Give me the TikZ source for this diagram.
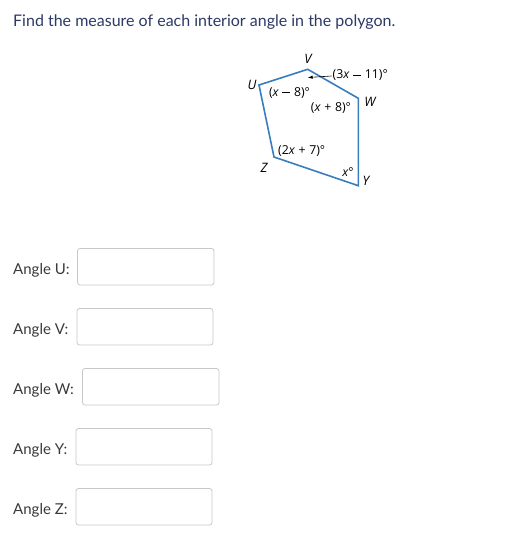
\documentclass[tikz,border=0pt]{standalone}
\usepackage{fontspec}
\setmainfont{Lato}
\newfontfamily\diagfont{Open Sans}
\newcommand{\opsp}{\hspace{3.6pt}}
\newcommand{\mminus}{\rule[3.6pt]{8pt}{0.75pt}}
\begin{document}
\begin{tikzpicture}[x=1pt,y=-1pt,
  poly/.style={draw=polyblue,line width=1.6pt,line join=miter},
  vlab/.style={font=\diagfont\itshape\fontsize{13}{13}\selectfont,inner sep=0pt},
  alab/.style={font=\diagfont\fontsize{12.3}{12.3}\selectfont,inner sep=0pt},
  qlab/.style={font=\fontsize{15}{15}\selectfont,text=labgray,anchor=west,inner sep=0pt},
  ansbox/.style={draw=boxgray,rounded corners=2.5pt,line width=0.8pt,fill=white}]
\definecolor{polyblue}{HTML}{3A7DBE}
\definecolor{titleblue}{HTML}{2D3A66}
\definecolor{labgray}{HTML}{3A3A3A}
\definecolor{boxgray}{HTML}{C8C8C8}
\useasboundingbox[fill=white] (0,0) rectangle (520,547);
\node[anchor=west,inner sep=0pt,text=titleblue,font=\fontsize{16}{16}\selectfont] (title) at (13,22) {Find the measure of each interior angle in the polygon.};
% polygon
\coordinate (U) at (259,85);
\coordinate (V) at (307.7,69.3);
\coordinate (W) at (358.3,98.3);
\coordinate (Y) at (358.3,185.7);
\coordinate (Z) at (274,157);
\draw[poly] (U) -- (V) -- (W) -- (Y) -- (Z) -- cycle;
\node[vlab] (lV) at (308,59) {V};
\node[vlab] (lU) at (252,85) {U};
\node[vlab] (lW) at (370,102) {W};
\node[vlab] (lY) at (366,181) {Y};
\node[vlab] (lZ) at (264,168) {Z};
\node[alab,anchor=west] (aV) at (332.5,75.5) {(3\textit{x}\opsp\mminus\opsp11)°};
\node[alab] (aU) at (289.5,93) {(\textit{x}\opsp\mminus\opsp8)°};
\node[alab] (aW) at (331,108) {(\textit{x}\opsp+\opsp8)°};
\node[alab,anchor=west] (aZ) at (278,151) {(2\textit{x}\opsp+\opsp7)°};
\node[alab] (aY) at (348,172) {\textit{x}°};
\coordinate (arrEnd) at (308,77.5);
\draw[line width=0.6pt,-{latex}] (aV.west) ++(-1,0.5) coordinate (arrStart) -- (arrEnd);
% answer rows
\node[qlab] (qU) at (13,270) {Angle U:};
\draw[ansbox] (77.5,248.5) rectangle (214,285) node[coordinate] (bU) {};
\node[qlab] (qV) at (13,330) {Angle V:};
\draw[ansbox] (77,308.5) rectangle (213,345) node[coordinate] (bV) {};
\node[qlab] (qW) at (13,390) {Angle W:};
\draw[ansbox] (82.5,368.5) rectangle (219,405) node[coordinate] (bW) {};
\node[qlab] (qY) at (13,450) {Angle Y:};
\draw[ansbox] (76,428.5) rectangle (212,465) node[coordinate] (bY) {};
\node[qlab] (qZ) at (13,510) {Angle Z:};
\draw[ansbox] (76,488.5) rectangle (212,525) node[coordinate] (bZ) {};
\end{tikzpicture}
\end{document}
